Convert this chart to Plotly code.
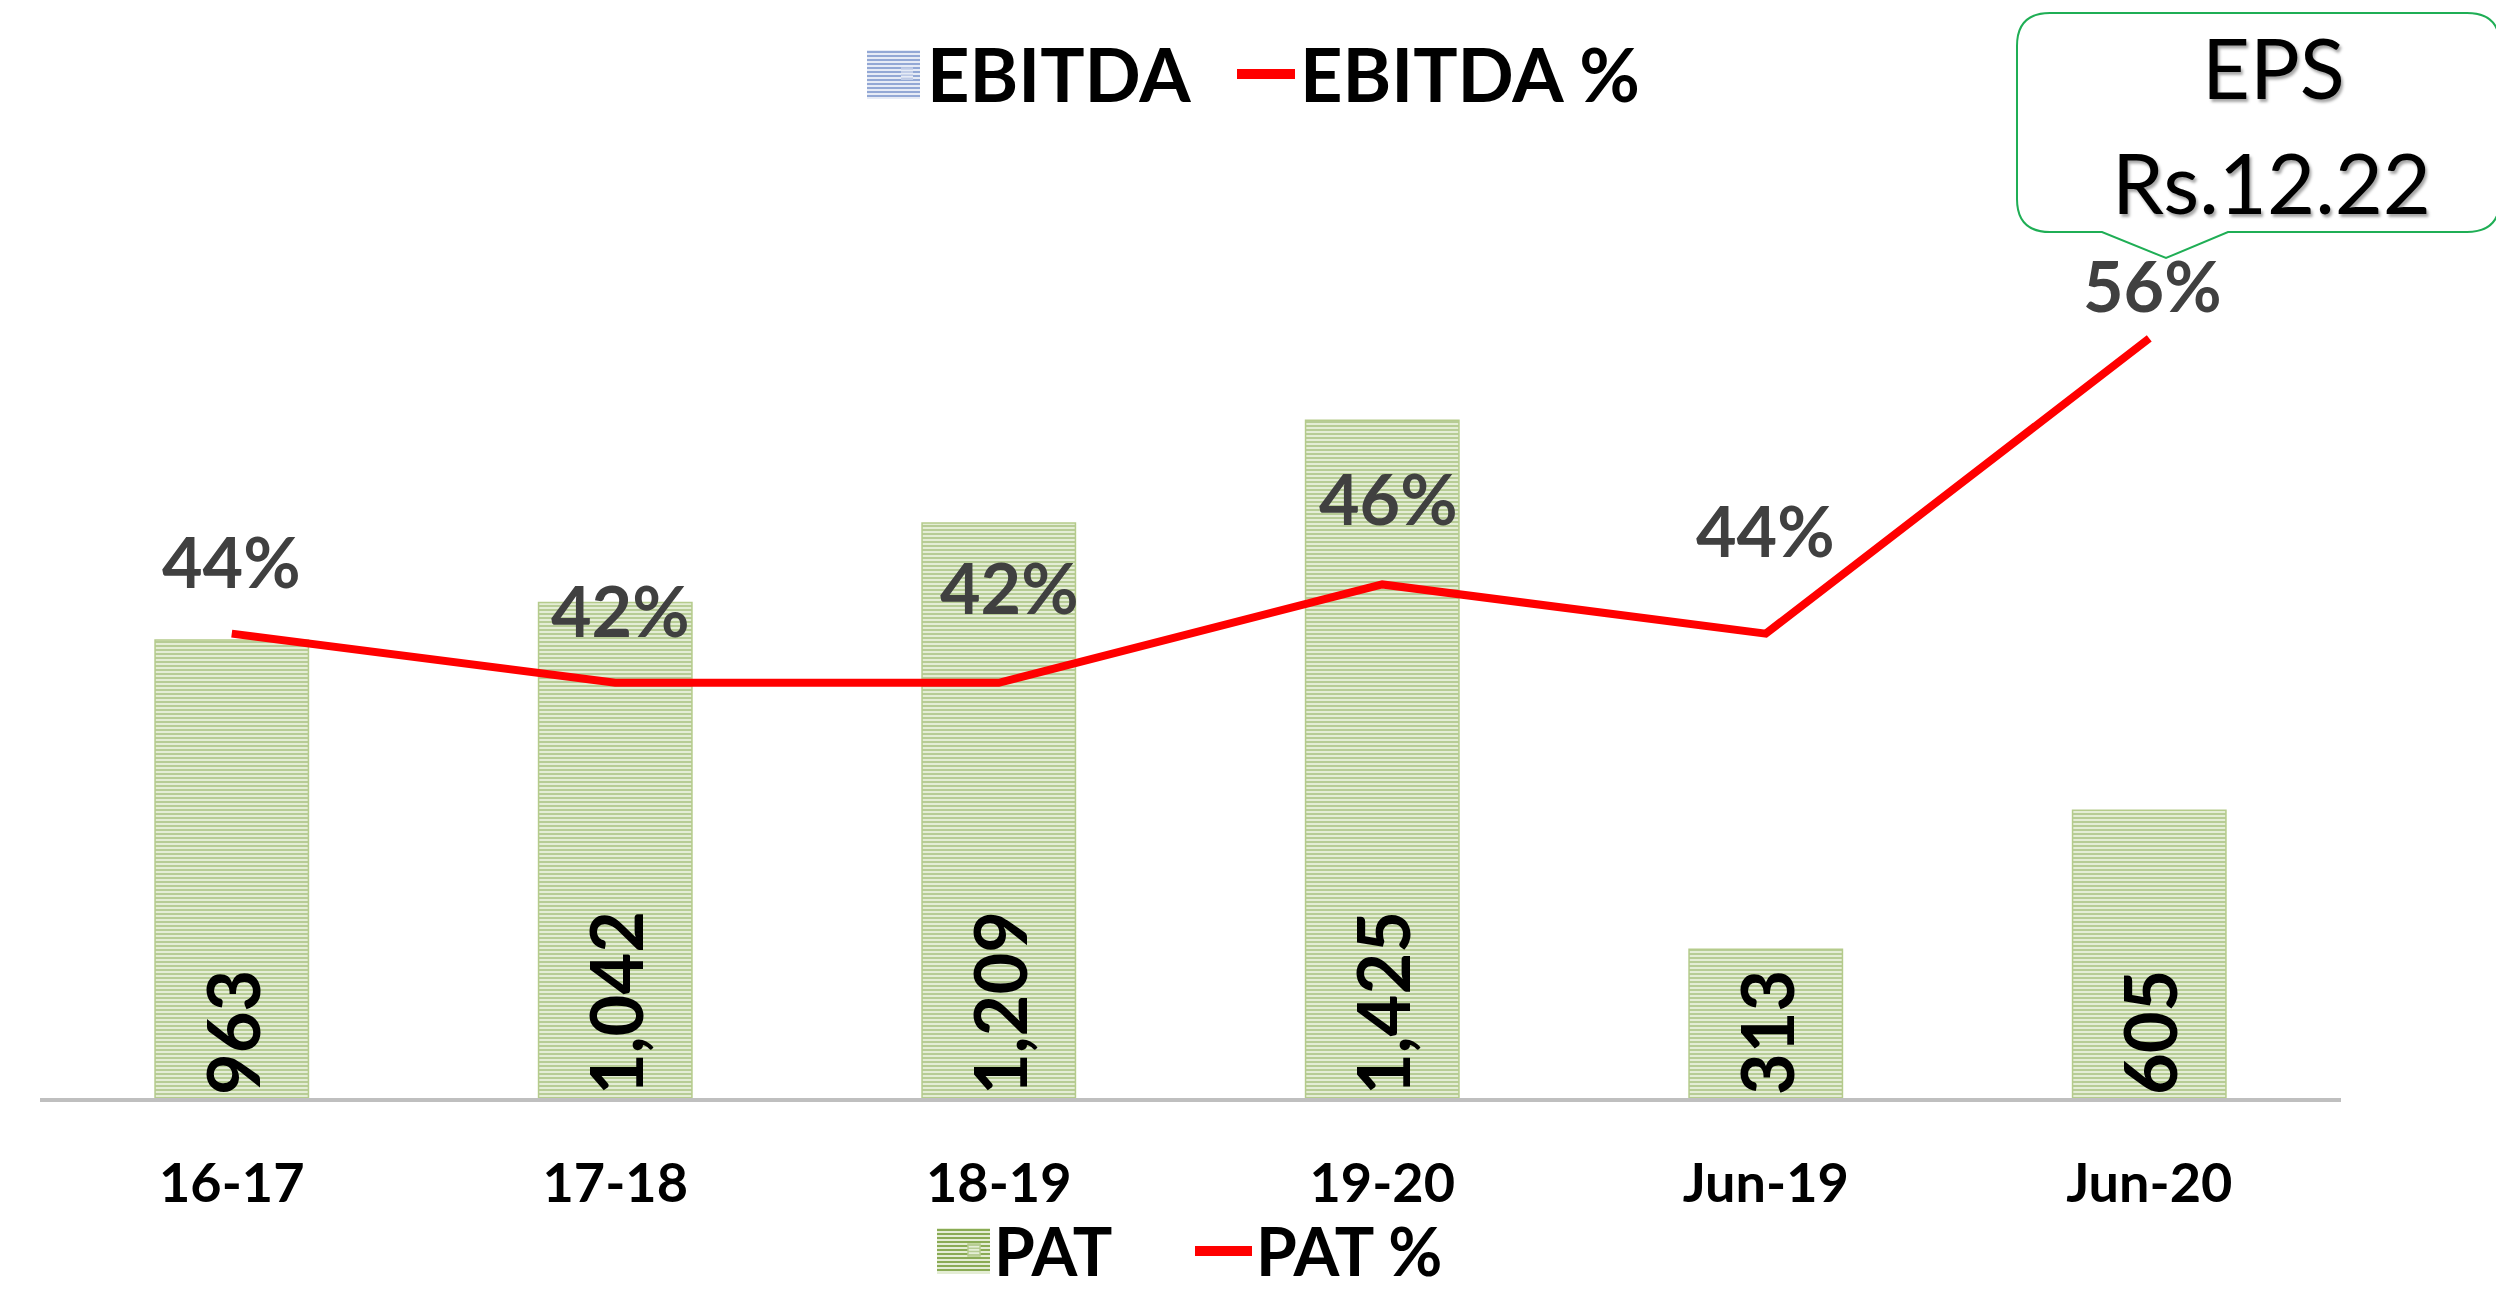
import plotly.graph_objects as go

# ---------------- data ----------------
categories = ["16-17", "17-18", "18-19", "19-20", "Jun-19", "Jun-20"]
pat_values = [963, 1042, 1209, 1425, 313, 605]
pat_pct = [44, 42, 42, 46, 44, 56]
eps_title = "EPS"
eps_value = "Rs.12.22"

# label offsets (style, in px): upward and sideways shift of the % labels
pct_dy = [73, 73, 96, 86, 104, 53]
pct_dx = [0, 5, 11, 6, 0, 3]

# ---------------- layout geometry ----------------
W, H = 2496, 1294
ML, MR, MT, MB = 40, 155, 0, 196
PW, PH = W - ML - MR, H - MT - MB


def px2x(px):
    return (px - ML) / PW


def px2y(py):
    return 1 - (py - MT) / PH


FONT = "Lato"
GREEN_FG = "#8aab55"
GREEN_BG = "#e4edd5"
BLUE_FG = "#93a8d5"
BLUE_BG = "#e6ebf6"
RED = "#ff0000"

fig = go.Figure()

# legend-only entries for the top legend
fig.add_trace(go.Bar(
    x=categories, y=[None] * len(categories), name="EBITDA",
    marker=dict(color=BLUE_BG, pattern=dict(shape="-", fgcolor=BLUE_FG, bgcolor=BLUE_BG,
                                            size=4, solidity=0.5),
                line=dict(width=0)),
    legend="legend", hoverinfo="skip",
))
fig.add_trace(go.Scatter(
    x=categories, y=[None] * len(categories), name="EBITDA %", mode="lines",
    line=dict(color=RED, width=8), yaxis="y2", legend="legend2", hoverinfo="skip",
))

# PAT bars
fig.add_trace(go.Bar(
    x=categories, y=pat_values, name="PAT",
    marker=dict(color=GREEN_BG,
                pattern=dict(shape="-", fgcolor=GREEN_FG, bgcolor=GREEN_BG, size=4, solidity=0.5),
                line=dict(color="#b5cb8c", width=1.5)),
    texttemplate="<b>%{y:,}</b>", textposition="inside", insidetextanchor="start",
    textangle=-90,
    textfont=dict(family=FONT, size=72, color="black", weight="bold"),
    legend="legend3",
))

# PAT % line
fig.add_trace(go.Scatter(
    x=categories, y=pat_pct, name="PAT %", mode="lines",
    line=dict(color=RED, width=8), yaxis="y2", legend="legend4",
))

# % data labels
for c, v, dy, dx in zip(categories, pat_pct, pct_dy, pct_dx):
    fig.add_annotation(
        x=c, y=v, xref="x", yref="y2", text=f"<b>{v}%</b>", showarrow=False,
        yshift=dy, xshift=dx, xanchor="center", yanchor="middle",
        font=dict(family=FONT, size=70, color="#404040", weight="bold"),
    )


def P(px, py):
    return f"{px2x(px):.5f},{px2y(py):.5f}"


# EPS callout box with pointer
L_, R_, T_, B_, r = 2017, 2500, 13, 232, 33
pb1, pb2, tipx, tipy = 2102, 2228, 2166, 258
path = (
    f"M{P(L_ + r, T_)} L{P(R_ - r, T_)} Q{P(R_, T_)} {P(R_, T_ + r)} "
    f"L{P(R_, B_ - r)} Q{P(R_, B_)} {P(R_ - r, B_)} "
    f"L{P(pb2, B_)} L{P(tipx, tipy)} L{P(pb1, B_)} "
    f"L{P(L_ + r, B_)} Q{P(L_, B_)} {P(L_, B_ - r)} "
    f"L{P(L_, T_ + r)} Q{P(L_, T_)} {P(L_ + r, T_)} Z"
)
fig.add_shape(type="path", path=path, xref="paper", yref="paper",
              line=dict(color="#1fae55", width=2), fillcolor="white", layer="above")

shadow = "2px 3px 3px rgba(0,0,0,0.35)"
fig.add_annotation(x=px2x(2273), y=px2y(67), xref="paper", yref="paper", text=eps_title,
                   showarrow=False, xanchor="center", yanchor="middle",
                   font=dict(family=FONT, size=83, color="black", shadow=shadow))
fig.add_annotation(x=px2x(2271), y=px2y(182), xref="paper", yref="paper", text=eps_value,
                   showarrow=False, xanchor="center", yanchor="middle",
                   font=dict(family=FONT, size=83, color="black", shadow=shadow))


# enlarged legend swatches (decoration matching the reference's big legend keys)
def striped_swatch(x0, y0, x1, y1, fg, bg):
    fig.add_shape(type="rect", xref="paper", yref="paper",
                  x0=px2x(x0), x1=px2x(x1), y0=px2y(y1), y1=px2y(y0),
                  fillcolor=bg, line=dict(width=0), layer="below")
    d = " ".join(f"M{P(x0, yy)} L{P(x1, yy)}" for yy in range(y0 + 2, y1, 4))
    fig.add_shape(type="path", path=d, xref="paper", yref="paper",
                  line=dict(color=fg, width=2), layer="below")


def line_key(x0, x1, y):
    fig.add_shape(type="line", xref="paper", yref="paper",
                  x0=px2x(x0), x1=px2x(x1), y0=px2y(y), y1=px2y(y),
                  line=dict(color=RED, width=10), layer="below")


striped_swatch(867, 50, 920, 99, BLUE_FG, BLUE_BG)
line_key(1237, 1295, 74)
striped_swatch(937, 1228, 990, 1274, GREEN_FG, GREEN_BG)
line_key(1195, 1252, 1251)


def leg(text_left_px, py, size):
    return dict(orientation="h", x=px2x(text_left_px - 43), y=px2y(py),
                xanchor="left", yanchor="middle",
                font=dict(family=FONT, size=size, color="black", weight="bold"),
                bgcolor="rgba(0,0,0,0)")


fig.update_layout(
    width=W, height=H,
    margin=dict(l=ML, r=MR, t=MT, b=MB, autoexpand=False),
    plot_bgcolor="white", paper_bgcolor="white",
    barmode="overlay", bargap=0.6,
    showlegend=True,
    legend=leg(930, 74, 74),
    legend2=leg(1303, 74, 74),
    legend3=leg(997, 1250, 66),
    legend4=leg(1259, 1250, 66),
    xaxis=dict(showline=True, linecolor="#bfbfbf", linewidth=4, showgrid=False,
               ticks="", ticklabelstandoff=35,
               tickfont=dict(family=FONT, size=54, color="black", weight="bold")),
    yaxis=dict(range=[0, 2309], visible=False, showgrid=False, zeroline=False),
    yaxis2=dict(range=[25.12, 69.76], overlaying="y", side="right", visible=False,
                showgrid=False, zeroline=False),
)

fig.write_html("out.html", config={"displayModeBar": False},
               post_script="document.body.style.margin='0px';document.body.style.overflow='hidden';")
